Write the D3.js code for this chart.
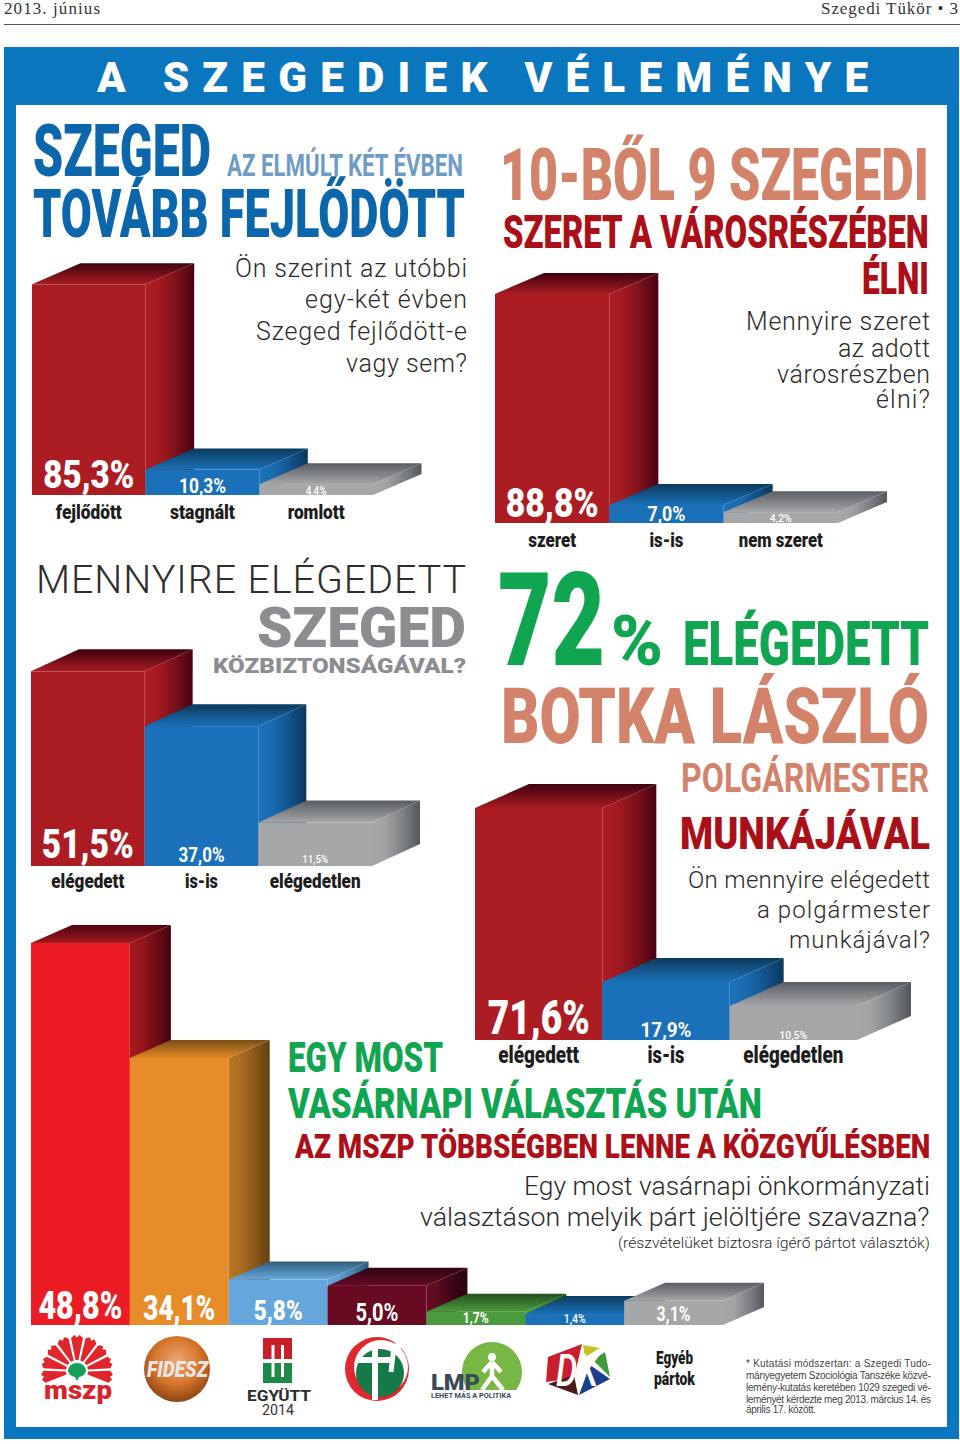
<!DOCTYPE html>
<html><head><meta charset="utf-8">
<script src="https://cdn.jsdelivr.net/npm/d3@7/dist/d3.min.js"></script>
<style>html,body{margin:0;padding:0;background:#fff}svg{display:block}</style>
</head><body><svg id="c" width="960" height="1444"></svg>
<script>
// ---- data ----
const fejlodesCats = ["fejlődött","stagnált","romlott"];
const fejlodesVals = [85.3,10.3,4.4];
const biztonsagCats = ["elégedett","is-is","elégedetlen"];
const biztonsagVals = [51.5,37.0,11.5];
const varosreszCats = ["szeret","is-is","nem szeret"];
const varosreszVals = [88.8,7.0,4.2];
const botkaCats = ["elégedett","is-is","elégedetlen"];
const botkaVals = [71.6,17.9,10.5];
const partCats = ["MSZP","Fidesz","Együtt 2014","Jobbik","LMP","DK","Egyéb pártok"];
const partVals = [48.8,34.1,5.8,5.0,1.7,1.4,3.1];

// ---- styles ----
const palette = {
  red:   {front:"#ab1d23", s:["#ab1d23","#a51a21","#74101a","#470212"], t:["#3f0210","#a81c22"]},
  blue:  {front:"#1a71b9", s:["#1a71b9","#1a6cb0","#12508a","#0a3759"], t:["#0c3a5c","#1a70b8"]},
  grey:  {front:"#a5a7a9", s:["#a5a7a9","#a0a2a4","#7a7d80","#52555a"], t:["#5a5d62","#a5a7a9"]},
  bred:  {front:"#ec1c24", s:["#a01a1e","#96161c","#6a0c14","#44000f"], t:["#4e0210","#a01a20"]},
  orange:{front:"#e68c28", s:["#b87622","#ab6e20","#86551a","#62400f"], t:["#7a4e14","#e08826"]},
  sky:   {front:"#65a7dc", s:["#65a7dc","#5f9dcf","#447aa2","#2e5a7c"], t:["#33607f","#65a7dc"]},
  maroon:{front:"#680a22", s:["#680a22","#5a0a1e","#3a0416","#2a0210"], t:["#2e0412","#680a22"]},
  green: {front:"#4c9a3e", s:["#4c9a3e","#438a38","#2e5f28","#24481f"], t:["#24501f","#4c9a3e"]}
};
const sideStops = [0,0.28,0.68,1];
const charts = [
 {cats:fejlodesCats, vals:fejlodesVals, x:[32,373], base:495, k:2.47, dx:48.5, dy:21, cols:["red","blue","grey"],
  vs:[[91,28,7],[47,14,2],[21,9,0]], lw:[66,65,57], lb:519, ls:21},
 {cats:biztonsagCats, vals:biztonsagVals, x:[31,372], base:866, k:3.78, dx:48, dy:22, cols:["red","blue","grey"],
  vs:[[92,29,8],[46,15,4],[26,8,3]], lw:[73,33,91], lb:888, ls:21},
 {cats:varosreszCats, vals:varosreszVals, x:[495,838], base:523, k:2.58, dx:49, dy:21, cols:["red","blue","grey"],
  vs:[[93,29,6],[38,15,2],[22,8,1]], lw:[48,34,84], lb:547, ls:21},
 {cats:botkaCats, vals:botkaVals, x:[475,857], base:1040, k:3.24, dx:54, dy:24, cols:["red","blue","grey"],
  vs:[[102,34,6],[51,15,3],[28,8,1]], lw:[81,37,100], lb:1063, ls:23},
 {cats:partCats, vals:partVals, x:[31,723], base:1325, k:7.83, dx:41, dy:18, cols:["bred","orange","sky","maroon","green","blue","grey"],
  vs:[[84,28,6],[72,25,5],[49,20,5],[43,18,4],[26,10,2],[22,9,2],[34,14,4]], lw:null}
];
const FONT = "Roboto, 'Noto Sans', sans-serif";
const svg = d3.select("#c");
const defs = svg.append("defs");
Object.entries(palette).forEach(([k,p])=>{
  const s = defs.append("linearGradient").attr("id","side-"+k);
  sideStops.forEach((o,i)=>s.append("stop").attr("offset",o).attr("stop-color",p.s[i]));
  const t = defs.append("linearGradient").attr("id","top-"+k).attr("x1",0).attr("y1",0).attr("x2",0).attr("y2",1);
  p.t.forEach((c,i)=>t.append("stop").attr("offset",i).attr("stop-color",c));
});
const fg = defs.append("radialGradient").attr("id","fid").attr("cx","50%").attr("cy","38%").attr("r","68%");
[["0","#e8a878"],["0.5","#d9762c"],["1","#7e3a10"]].forEach(d=>fg.append("stop").attr("offset",d[0]).attr("stop-color",d[1]));

// ---- text helpers: fit a real text into [x0,x1] by condensing or tracking ----
function fit(el,x0,x1,base,adj){
  const n=el.node(), L=n.getComputedTextLength(), w=x1-x0;
  if(adj==="spacing"){
    el.attr("x",x0).attr("y",base).attr("letter-spacing",(w-L)/(n.getNumberOfChars()-1));
  } else {
    el.attr("transform",`translate(${x0},${base}) scale(${w/L},1)`);
  }
  return el;
}
function cap(g,str,x0,x1,top,base,fill,w=900,extra={}){
  const el=g.append("text").text(str)
    .attr("font-family",extra.fam||FONT).attr("font-weight",w).attr("font-style",extra.style||null)
    .attr("font-size",(base-top)/0.711).attr("fill",fill);
  return fit(el,x0,x1,base,extra.adj);
}
function thin(g,str,x0,x1,base,size,extra={}){
  const el=g.append("text").text(str).attr("font-family",extra.fam||FONT)
    .attr("font-weight",extra.w||300).attr("font-size",size).attr("fill",extra.fill||"#2a2a2a");
  return fit(el,x0,x1,base,extra.adj);
}

// ---- page frame ----
const SERIF = "'Liberation Serif','DejaVu Serif',serif";
thin(svg,"2013. június",4,100,14,17,{fill:"#333",fam:SERIF,w:400,adj:"spacing"});
thin(svg,"Szegedi Tükör • 3",821,958,14,17,{fill:"#333",fam:SERIF,w:400,adj:"spacing"});
svg.append("line").attr("x1",4).attr("x2",960).attr("y1",24.5).attr("y2",24.5).attr("stroke","#555").attr("stroke-width",1.2);
svg.append("rect").attr("x",4).attr("y",47).attr("width",955).attr("height",1392).attr("fill","#0a76bd");
svg.append("rect").attr("x",16).attr("y",105).attr("width",931).attr("height",1322).attr("fill","#fff");
cap(svg,"A SZEGEDIEK VÉLEMÉNYE",97,868,62,92,"#fff",900,{adj:"spacing"});

// ---- bars ----
charts.forEach(c=>{
  const x = d3.scaleBand().domain(c.cats).range(c.x);
  const y = d3.scaleLinear().domain([0,100]).range([c.base,c.base-100*c.k]);
  const g = svg.append("g");
  const bars = g.selectAll("g").data(c.vals).join("g");
  bars.each(function(v,i){
    const b = d3.select(this), cat=c.cats[i], key=c.cols[i];
    const x0=x(cat), x1=x0+x.bandwidth(), top=y(v), bot=y(0);
    const line=d3.line();
    b.append("path").attr("d",line([[x1,top],[x1+c.dx,top-c.dy],[x1+c.dx,bot-c.dy],[x1,bot]])+"Z").attr("fill",`url(#side-${key})`);
    b.append("path").attr("d",line([[x0,top],[x0+c.dx,top-c.dy],[x1+c.dx,top-c.dy],[x1,top]])+"Z").attr("fill",`url(#top-${key})`);
    b.append("rect").attr("x",x0).attr("y",top).attr("width",x.bandwidth()).attr("height",bot-top).attr("fill",palette[key].front);
  });
  bars.each(function(v,i){
    const cat=c.cats[i], cx=x(cat)+x.bandwidth()/2, [w,h,off]=c.vs[i];
    cap(d3.select(this),v.toFixed(1).replace(".",",")+"%",cx-w/2,cx+w/2,c.base-off-h,c.base-off,"#fff",h<10?500:(h>=20?900:700));
    if(c.lw) thin(d3.select(this),cat,cx-c.lw[i]/2,cx+c.lw[i]/2,c.lb,c.ls,{fill:"#1d1d1d",w:900});
  });
});

// ---- headlines ----
const BLUE="#0b66ab", LB="#6f9cc6", SAL="#d4836b", DR="#ab0f18", GR="#10a550", GY="#8b8d90";
const Q={adj:"spacing"};
cap(svg,"SZEGED",33,211,125,176,BLUE);
cap(svg,"AZ ELMÚLT KÉT ÉVBEN",227,463,154,176,LB,700);
cap(svg,"TOVÁBB FEJLŐDÖTT",33,465,190,237,BLUE);
thin(svg,"Ön szerint az utóbbi",235,467,277,25,Q);
thin(svg,"egy-két évben",305,467,308,25,Q);
thin(svg,"Szeged fejlődött-e",256,467,340,25,Q);
thin(svg,"vagy sem?",346,467,372,25,Q);

cap(svg,"10-BŐL 9 SZEGEDI",500,929,148,200,SAL);
cap(svg,"SZERET A VÁROSRÉSZÉBEN",503,929,215,248,DR);
cap(svg,"ÉLNI",862,929,263,294,DR);
thin(svg,"Mennyire szeret",746,930,330,25,Q);
thin(svg,"az adott",838,930,357,25,Q);
thin(svg,"városrészben",777,930,383,25,Q);
thin(svg,"élni?",876,930,408,25,Q);

cap(svg,"MENNYIRE ELÉGEDETT",36,466,565,593,"#2e2e2e",300,Q);
cap(svg,"SZEGED",257,466,607,647,GY,900);
cap(svg,"KÖZBIZTONSÁGÁVAL?",213,466,658,673,GY,900);

cap(svg,"72",498,605,572,665,GR,900);
cap(svg,"%",611,663,615,665,GR,900);
cap(svg,"ELÉGEDETT",683,929,622,665,GR,900);
cap(svg,"BOTKA LÁSZLÓ",501,929,688,743,SAL,900);
cap(svg,"POLGÁRMESTER",681,929,763,792,SAL,700);
cap(svg,"MUNKÁJÁVAL",680,930,817,849,DR);
thin(svg,"Ön mennyire elégedett",688,930,888,24,Q);
thin(svg,"a polgármester",757,930,918,24,Q);
thin(svg,"munkájával?",789,930,948,24,Q);

cap(svg,"EGY MOST",288,443,1042,1072,GR);
cap(svg,"VASÁRNAPI VÁLASZTÁS UTÁN",288,762,1088,1118,GR);
cap(svg,"AZ MSZP TÖBBSÉGBEN LENNE A KÖZGYŰLÉSBEN",295,930,1135,1158,DR);
thin(svg,"Egy most vasárnapi önkormányzati",524,930,1195,26);
thin(svg,"választáson melyik párt jelöltjére szavazna?",420,930,1226,26);
thin(svg,"(részvételüket biztosra ígérő pártot választók)",618,930,1248,15);

// ---- logos ----
const L = svg.append("g");
// MSZP
const mszp = L.append("g").attr("transform","translate(77,1371)");
d3.range(9).forEach(i=>{
  const a=-190+i*(200/8);
  mszp.append("path").attr("transform",`rotate(${a})`).attr("d","M11,-1.5 L33,-6 L36,-2.5 L33.5,0 L36,2.5 L33,6 L11,1.5Z").attr("fill","#e0252b");
});
mszp.append("path").attr("d","M-9,0 A9,8 0 0 1 9,0 A9,8 0 0 1 2,6 L0,10 L-2,6 A9,8 0 0 1 -9,0Z").attr("fill","#17a05a");
cap(L,"mszp",44,112,1381,1399,"#d8232a",900);
// FIDESZ
L.append("circle").attr("cx",177).attr("cy",1369).attr("r",33).attr("fill","url(#fid)");
cap(L,"FIDESZ",147,208,1362,1377,"#e9e6e2",900,{style:"italic"});
// EGYÜTT
const red="#c8202a", grn="#1d8a4a";
L.append("rect").attr("x",263).attr("y",1338).attr("width",29).attr("height",21).attr("fill",red);
[271.5,281].forEach(x=>L.append("rect").attr("x",x).attr("y",1345).attr("width",3).attr("height",14).attr("fill","#fff"));
L.append("rect").attr("x",263).attr("y",1363).attr("width",29).attr("height",20).attr("fill",grn);
[271.5,281].forEach(x=>L.append("rect").attr("x",x).attr("y",1363).attr("width",3).attr("height",14).attr("fill","#fff"));
cap(L,"EGYÜTT",247,311,1390,1401,"#2b2b2b",700);
cap(L,"2014",262,294,1405,1415,"#333",400);
// Jobbik
L.append("circle").attr("cx",377).attr("cy",1369).attr("r",32).attr("fill","#e0282e");
L.append("circle").attr("cx",381).attr("cy",1367).attr("r",27).attr("fill","#fff");
L.append("circle").attr("cx",380).attr("cy",1373).attr("r",24).attr("fill","#157a48");
[[375,1344,375,1400,6],[358,1360,394,1360,6],[384,1346,404,1346,5],[394,1346,391,1372,5]].forEach(d=>
  L.append("line").attr("x1",d[0]).attr("y1",d[1]).attr("x2",d[2]).attr("y2",d[3]).attr("stroke","#fff").attr("stroke-width",d[4]));
// LMP
defs.append("clipPath").attr("id","lmp").append("rect").attr("x",450).attr("y",1330).attr("width",90).attr("height",60);
L.append("circle").attr("cx",492).attr("cy",1372).attr("r",30).attr("fill","#76b843").attr("clip-path","url(#lmp)");
L.append("circle").attr("cx",492).attr("cy",1357).attr("r",4).attr("fill","#fff");
L.append("path").attr("d","M492,1362 L483,1372 M492,1362 L501,1372 M492,1362 L492,1376 L482,1390 M492,1376 L503,1390").attr("stroke","#fff").attr("stroke-width",4.5).attr("fill","none");
cap(L,"LMP",431,480,1374,1390,"#3b4959",900);
cap(L,"LEHET MÁS A POLITIKA",431,511,1393,1398,"#3b4959",700);
// DK
[["#c9202e",[[548,1357],[582,1344],[574,1378],[546,1382]]],
 ["#c8c020",[[583,1345],[600,1348],[585,1357]]],
 ["#3f9a3c",[[593,1360],[605,1352],[610,1377]]],
 ["#1c3f8c",[[590,1365],[610,1379],[579,1395]]],
 ["#4a1c1c",[[548,1384],[574,1375],[578,1395]]]].forEach(d=>
   L.append("polygon").attr("points",d[1].join(" ")).attr("fill",d[0]));
cap(L,"DK",556,598,1354,1386,"#fff",500,{style:"italic"});
// Egyéb pártok
cap(L,"Egyéb",656,693,1351,1364,"#1d1d1d",900);
cap(L,"pártok",654,695,1372,1385,"#1d1d1d",900);

// ---- footnote ----
const FN="'Liberation Sans',Arial,sans-serif";
[["* Kutatási módszertan: a Szegedi Tudo-",931,1367],
 ["mányegyetem Szociológia Tanszéke közvé-",931,1379],
 ["lemény-kutatás keretében 1029 szegedi vé-",931,1391],
 ["leményét kérdezte meg 2013. március 14. és",931,1403],
 ["április 17. között.",816,1413]].forEach(d=>
  thin(svg,d[0],746,d[1],d[2],10,{fill:"#444",fam:FN,w:400,adj:"spacing"}));
</script></body></html>
